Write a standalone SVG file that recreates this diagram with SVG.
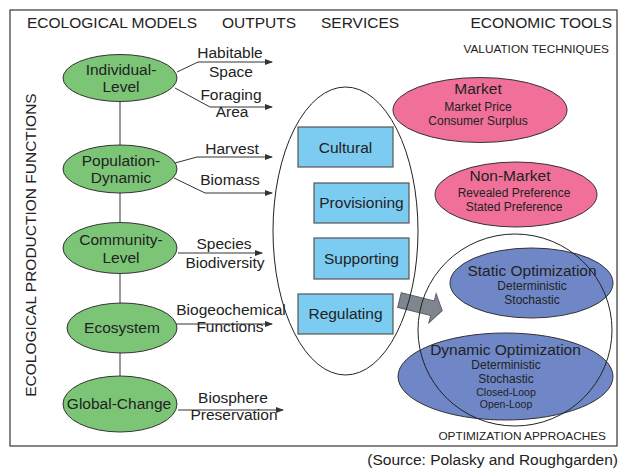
<svg xmlns="http://www.w3.org/2000/svg" width="619" height="468" viewBox="0 0 619 468">
<defs>
<style>
text{font-family:"Liberation Sans",Arial,sans-serif;fill:#222;}
.t{font-size:15.5px;}
.s{font-size:12px;text-anchor:middle;}
.xs{font-size:10.5px;text-anchor:middle;}
.c{text-anchor:middle;font-size:15.5px;}
.eco{fill:#7cc577;stroke:#333;stroke-width:1;}
.svc{fill:#7ccbf1;stroke:#555;stroke-width:1.2;}
.val{fill:#f07099;stroke:#333;stroke-width:1;}
.opt{fill:#6f87c6;stroke:#333;stroke-width:1;}
.line{fill:none;stroke:#333;stroke-width:1;}
.out{fill:none;stroke:#333;stroke-width:1;marker-end:url(#ah);}
.hdr{font-size:11.8px;}
</style>
<marker id="ah" viewBox="0 0 8 6" refX="7" refY="3" markerWidth="8" markerHeight="6" markerUnits="userSpaceOnUse" orient="auto">
<path d="M0,0 L8,3 L0,6 Z" fill="#333"/>
</marker>
</defs>
<rect x="0" y="0" width="619" height="468" fill="#fff"/>
<rect x="10" y="10" width="607" height="436" fill="none" stroke="#444" stroke-width="1.3"/>

<g id="titles">
<text class="t" x="27" y="28">ECOLOGICAL MODELS</text>
<text class="t" x="222" y="28">OUTPUTS</text>
<text class="t" x="321" y="28">SERVICES</text>
<text class="t" x="612" y="28" text-anchor="end">ECONOMIC TOOLS</text>
<text class="hdr" x="609" y="53" text-anchor="end">VALUATION TECHNIQUES</text>
<text class="hdr" x="606" y="440" text-anchor="end">OPTIMIZATION APPROACHES</text>
<text class="t" transform="translate(36,245) rotate(-90)" text-anchor="middle">ECOLOGICAL PRODUCTION FUNCTIONS</text>
<text class="t" x="618" y="465" text-anchor="end">(Source: Polasky and Roughgarden)</text>
</g>

<g id="connectors">
<line class="line" x1="120" y1="100" x2="120" y2="380"/>
<polyline class="out" points="177,72 198,62 272,62"/>
<polyline class="out" points="175,88 210,107 272,107"/>
<polyline class="out" points="175,163 197,157 272,157"/>
<polyline class="out" points="174,178 205,193 272,193"/>
<polyline class="out" points="178,253 262,253"/>
<polyline class="out" points="176,324 272,324"/>
<polyline class="out" points="178,410 283,410"/>
</g>

<g id="outputs">
<text class="c" x="230" y="58">Habitable</text>
<text class="c" x="231" y="77">Space</text>
<text class="c" x="231" y="100">Foraging</text>
<text class="c" x="232" y="117">Area</text>
<text class="c" x="232" y="154">Harvest</text>
<text class="c" x="230" y="185">Biomass</text>
<text class="c" x="224" y="249">Species</text>
<text class="c" x="225" y="268">Biodiversity</text>
<text class="c" x="231" y="315">Biogeochemical</text>
<text class="c" x="230" y="332">Functions</text>
<text class="c" x="233" y="403">Biosphere</text>
<text class="c" x="234" y="420">Preservation</text>
</g>

<g id="individual-level">
<ellipse class="eco" cx="120" cy="78" rx="57" ry="23.5"/>
<text class="c" x="121" y="75">Individual-</text>
<text class="c" x="121" y="92">Level</text>
</g>
<g id="population-dynamic">
<ellipse class="eco" cx="120" cy="169" rx="57" ry="24"/>
<text class="c" x="121" y="166">Population-</text>
<text class="c" x="121" y="183">Dynamic</text>
</g>
<g id="community-level">
<ellipse class="eco" cx="120" cy="248" rx="57" ry="25.5"/>
<text class="c" x="121" y="245">Community-</text>
<text class="c" x="121" y="263">Level</text>
</g>
<g id="ecosystem">
<ellipse class="eco" cx="122" cy="328" rx="55" ry="25"/>
<text class="c" x="122" y="333">Ecosystem</text>
</g>
<g id="global-change">
<ellipse class="eco" cx="120" cy="404" rx="57" ry="28"/>
<text class="c" x="119" y="409">Global-Change</text>
</g>

<g id="cultural">
<rect class="svc" x="298" y="127" width="95" height="40"/>
<text class="c" x="345.5" y="153">Cultural</text>
</g>
<g id="provisioning">
<rect class="svc" x="314" y="183" width="95" height="40"/>
<text class="c" x="361.5" y="208">Provisioning</text>
</g>
<g id="supporting">
<rect class="svc" x="314" y="238" width="95" height="41"/>
<text class="c" x="361.5" y="264">Supporting</text>
</g>
<g id="regulating">
<rect class="svc" x="298" y="294" width="95" height="40"/>
<text class="c" x="345.5" y="319">Regulating</text>
</g>

<g id="block-arrow">
<path transform="translate(399.5,300) rotate(14)" d="M0,-7.5 L34,-7.5 L34,-15 L44,0 L34,15 L34,7.5 L0,7.5 Z" fill="#80868f" stroke="#5a5f66" stroke-width="1"/>
</g>

<g id="market">
<ellipse class="val" cx="480" cy="110" rx="87" ry="32.5"/>
<text class="c" x="478" y="94">Market</text>
<text class="s" x="478" y="111">Market Price</text>
<text class="s" x="478" y="125">Consumer Surplus</text>
</g>
<g id="non-market">
<ellipse class="val" cx="516" cy="194.5" rx="81" ry="32.5"/>
<text class="c" x="510" y="181">Non-Market</text>
<text class="s" x="514" y="197">Revealed Preference</text>
<text class="s" x="514" y="211">Stated Preference</text>
</g>
<g id="static-optimization">
<ellipse class="opt" cx="531.5" cy="283" rx="81.5" ry="35"/>
<text class="c" x="532" y="276">Static Optimization</text>
<text class="s" x="532" y="290">Deterministic</text>
<text class="s" x="532" y="304">Stochastic</text>
</g>
<g id="dynamic-optimization">
<ellipse class="opt" cx="505.5" cy="376.5" rx="107.5" ry="43.5"/>
<text class="c" x="505.5" y="355">Dynamic Optimization</text>
<text class="s" x="506" y="369">Deterministic</text>
<text class="s" x="506" y="383">Stochastic</text>
<text class="xs" x="506" y="396">Closed-Loop</text>
<text class="xs" x="506" y="408">Open-Loop</text>
</g>

<g id="services-group">
<ellipse cx="345.5" cy="231" rx="72.5" ry="144" fill="none" stroke="#222" stroke-width="1"/>
</g>
<g id="optimization-group">
<ellipse cx="515" cy="330" rx="97" ry="96" fill="none" stroke="#222" stroke-width="1"/>
</g>
</svg>
